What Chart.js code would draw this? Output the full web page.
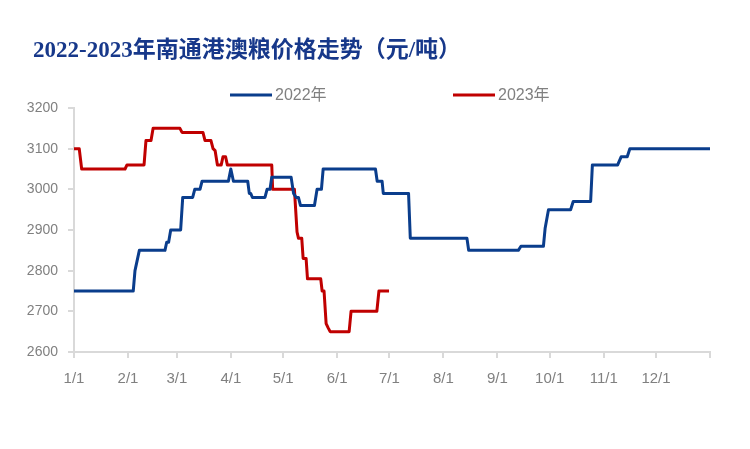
<!DOCTYPE html>
<html>
<head>
<meta charset="utf-8">
<script src="https://cdn.jsdelivr.net/npm/chart.js@4"></script>
<style>
  html, body { margin: 0; padding: 0; background: #fff; }
  #wrap { width: 750px; height: 449px; }
</style>
</head>
<body>
<div id="wrap"><canvas id="price-chart" width="750" height="449"></canvas></div>
<script>
// 标题和图例
const chartTitle = '2022-2023年南通港澳粮价格走势（元/吨）';
const seriesNames = ['2022年', '2023年'];

// x轴：一年中的第几天（1/1 = 0）
const monthDays = [0, 31, 59, 90, 120, 151, 181, 212, 243, 273, 304, 334, 365];
const monthLabels = ['1/1', '2/1', '3/1', '4/1', '5/1', '6/1', '7/1', '8/1', '9/1', '10/1', '11/1', '12/1', ''];

// y轴刻度
const yTicks = [2600, 2700, 2800, 2900, 3000, 3100, 3200];

// 2022年（元/吨）
const days2022 = [0, 34, 35, 37.5, 52.2, 53.2, 54.3, 55.5, 61.2, 62.4, 68.1, 69.3, 72.3, 73.5, 88.6, 90, 91.5,
  99.7, 100.6, 101.4, 102.4, 109.6, 110.8, 112.5, 113.5, 124.6, 126, 127.5, 128.8, 130, 138, 139.5, 142, 143,
  173, 174, 176.8, 177.5, 192, 193, 225.5, 226.5, 255, 256.5, 269.4, 270.4, 272.3, 285, 286.5, 296.5, 297.5,
  312, 314, 317.5, 319, 365];
const price2022 = [2750, 2750, 2800, 2850, 2850, 2870, 2870, 2900, 2900, 2980, 2980, 3000, 3000, 3020, 3020, 3050, 3020,
  3020, 2990, 2990, 2980, 2980, 3000, 3000, 3030, 3030, 2990, 2980, 2980, 2960, 2960, 3000, 3000, 3050,
  3050, 3020, 3020, 2990, 2990, 2880, 2880, 2850, 2850, 2860, 2860, 2905, 2950, 2950, 2970, 2970, 3060,
  3060, 3080, 3080, 3100, 3100];

// 2023年（元/吨）
const days2023 = [0, 3, 4.4, 29.3, 30.4, 40.2, 41.3, 44.2, 45.4, 60.8, 62, 74, 75.2, 78.6, 79.8, 81, 82.3, 84.5,
  85.5, 87, 88, 113.5, 114, 126.5, 128, 128.8, 130.7, 131.5, 133.2, 134, 141.6, 142.4, 143.5, 144.7, 145.8,
  147, 157.9, 159, 173.8, 175, 180.8];
const price2023 = [3100, 3100, 3050, 3050, 3060, 3060, 3120, 3120, 3150, 3150, 3140, 3140, 3120, 3120, 3100, 3095, 3060, 3060,
  3080, 3080, 3060, 3060, 3000, 3000, 2895, 2880, 2880, 2830, 2830, 2780, 2780, 2750, 2750, 2670, 2660,
  2650, 2650, 2700, 2700, 2750, 2750];

const colors = ['#0a3d8c', '#c00000'];
const axisGray = '#d9d9d9';
const textGray = '#808080';
const tickFont = { family: "'Liberation Sans', Arial, sans-serif", size: 14 };

function toPoints(days, values) {
  return days.map((d, i) => ({ x: d, y: values[i] }));
}

// 标题 + 图例自己画，位置和原图对齐
const titleLegend = {
  id: 'titleLegend',
  afterDraw(chart) {
    const c = chart.ctx;
    c.save();
    c.fillStyle = '#17388a';
    c.font = "bold 23px 'Liberation Serif', 'Noto Sans CJK SC', serif";
    c.textBaseline = 'middle';
    c.textAlign = 'left';
    c.fillText(chartTitle, 33, 51);

    const legendX = [230, 453];
    c.font = "16px 'Liberation Sans', 'Noto Sans CJK SC', sans-serif";
    chart.data.datasets.forEach((ds, i) => {
      c.strokeStyle = ds.borderColor;
      c.lineWidth = 3;
      c.beginPath();
      c.moveTo(legendX[i], 95);
      c.lineTo(legendX[i] + 42, 95);
      c.stroke();
      c.fillStyle = textGray;
      c.fillText(ds.label, legendX[i] + 45, 96);
    });
    c.restore();
  }
};

new Chart(document.getElementById('price-chart'), {
  type: 'line',
  data: {
    datasets: [
      { label: seriesNames[0], data: toPoints(days2022, price2022), borderColor: colors[0], borderWidth: 3 },
      { label: seriesNames[1], data: toPoints(days2023, price2023), borderColor: colors[1], borderWidth: 3 }
    ]
  },
  options: {
    responsive: false,
    animation: false,
    layout: { padding: { top: 108, left: 0, right: 40, bottom: 57 } },
    elements: { point: { radius: 0 }, line: { tension: 0, borderCapStyle: 'butt', borderJoinStyle: 'round' } },
    plugins: {
      legend: { display: false },
      title: { display: false },
      tooltip: { enabled: false }
    },
    scales: {
      x: {
        type: 'linear',
        min: 0,
        max: 365,
        afterBuildTicks: scale => { scale.ticks = monthDays.map(v => ({ value: v })); },
        afterFit: scale => { scale.height = 40; },
        ticks: {
          autoSkip: false,
          maxRotation: 0,
          padding: 12,
          color: textGray,
          font: { family: "'Liberation Sans', Arial, sans-serif", size: 15 },
          callback: value => monthLabels[monthDays.indexOf(value)]
        },
        grid: { drawOnChartArea: false, drawTicks: true, tickLength: 6, color: axisGray, lineWidth: 2 },
        border: { display: true, color: axisGray, width: 2 }
      },
      y: {
        min: 2600,
        max: 3200,
        afterBuildTicks: scale => { scale.ticks = yTicks.map(v => ({ value: v })); },
        afterFit: scale => { scale.width = 74; },
        ticks: { padding: 10, color: textGray, font: tickFont, callback: value => String(value) },
        grid: { drawOnChartArea: false, drawTicks: true, tickLength: 6, color: axisGray, lineWidth: 2 },
        border: { display: true, color: axisGray, width: 2 }
      }
    }
  },
  plugins: [titleLegend]
});
</script>
</body>
</html>
